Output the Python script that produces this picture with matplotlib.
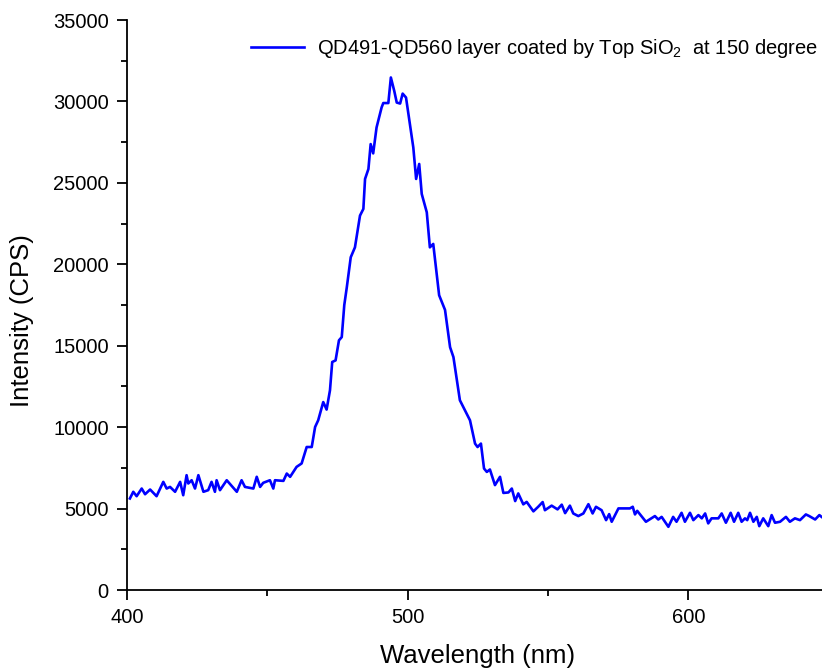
import matplotlib
matplotlib.use("Agg")
import matplotlib.pyplot as plt
from matplotlib.ticker import MultipleLocator

plt.rcParams['font.family'] = ['Liberation Sans', 'DejaVu Sans']
plt.rcParams['mathtext.fontset'] = 'custom'
plt.rcParams['mathtext.rm'] = 'Liberation Sans'
plt.rcParams['mathtext.it'] = 'Liberation Sans'

wavelength = [
    401.0, 402.2, 403.4, 405.2, 406.4, 408.2, 410.5, 412.9, 414.1, 415.3,
    417.1, 418.9, 420.0, 421.2, 421.8, 423.0, 424.2, 425.4, 427.2, 428.9,
    430.1, 431.3, 431.9, 433.1, 435.5, 439.1, 440.8, 442.0, 445.0, 446.2,
    447.4, 448.5, 450.9, 452.1, 452.7, 455.7, 456.9, 458.1, 460.4, 462.2,
    464.0, 465.8, 467.0, 468.1, 469.9, 471.1, 472.3, 473.1, 474.3, 475.5,
    476.5, 477.4, 478.3, 479.7, 481.2, 483.0, 484.2, 484.8, 486.0, 486.8,
    487.7, 488.9, 490.7, 491.3, 493.1, 494.0, 495.2, 496.1, 497.3, 498.2,
    499.4, 500.8, 502.0, 503.0, 504.1, 505.0, 506.8, 507.9, 509.1, 511.2,
    513.3, 515.1, 516.3, 518.6, 520.4, 522.2, 524.0, 524.9, 526.1, 527.2,
    528.2, 529.3, 531.1, 532.9, 534.1, 535.9, 537.1, 538.3, 539.4, 541.2,
    542.4, 544.8, 546.5, 548.1, 548.9, 551.3, 553.4, 554.9, 556.1, 557.8,
    559.0, 560.8, 562.6, 564.4, 565.9, 567.1, 569.1, 570.7, 571.8, 572.7,
    575.1, 579.2, 580.2, 581.0, 581.8, 584.9, 588.1, 589.3, 590.5, 592.9,
    594.6, 595.8, 597.6, 598.8, 600.6, 601.8, 603.6, 604.8, 606.0, 607.1,
    608.3, 610.7, 611.9, 613.4, 615.1, 616.3, 617.8, 619.0, 620.2, 621.0,
    622.0, 623.2, 624.4, 625.3, 626.7, 628.5, 629.7, 630.9, 632.7, 634.8,
    636.2, 638.0, 639.8, 641.9, 643.1, 645.2, 646.7, 647.5,
]

intensity = [
    5620, 6030, 5760, 6230, 5880, 6170, 5760, 6640, 6230, 6330,
    6030, 6640, 5820, 7050, 6540, 6740, 6230, 7050, 6030, 6130,
    6640, 6030, 6740, 6130, 6740, 6030, 6740, 6330, 6230, 6950,
    6330, 6580, 6740, 6230, 6740, 6700, 7150, 6950, 7560, 7770,
    8780, 8780, 10010, 10420, 11540, 11080, 12260, 14000, 14100, 15330,
    15530, 17500, 18590, 20430, 21040, 22990, 23400, 25240, 25850, 27380,
    26810, 28400, 29630, 29900, 29900, 31470, 30650, 29930, 29870, 30480,
    30240, 28610, 27170, 25240, 26160, 24320, 23190, 21040, 21250, 18100,
    17200, 14910, 14300, 11650, 11030, 10420, 8990, 8780, 8990, 7460,
    7250, 7400, 6440, 6950, 5960, 5990, 6230, 5460, 5930, 5260,
    5410, 4830, 5110, 5400, 4900, 5180, 4950, 5240, 4720, 5180,
    4700, 4540, 4700, 5270, 4700, 5110, 4900, 4290, 4660, 4190,
    5010, 5010, 5110, 4640, 4860, 4190, 4540, 4330, 4490, 3880,
    4490, 4190, 4740, 4190, 4740, 4290, 4600, 4400, 4700, 4090,
    4400, 4400, 4700, 4130, 4740, 4190, 4740, 4190, 4400, 4290,
    4740, 4190, 4490, 3920, 4400, 3920, 4600, 4130, 4190, 4490,
    4190, 4400, 4290, 4640, 4540, 4330, 4600, 4490,
]

series_label = "QD491-QD560 layer coated by Top SiO$_2$  at 150 degree"
x_label = "Wavelength (nm)"
y_label = "Intensity (CPS)"

fig = plt.figure(figsize=(8.22, 6.70), dpi=100)
ax = fig.add_axes([127.1 / 822, 80 / 670, 701.5 / 822, 570 / 670])

ax.plot(wavelength, intensity, color='#0000FF', lw=1.9, label=series_label)

ax.set_xlim(400, 650)
ax.set_ylim(0, 35000)
ax.xaxis.set_major_locator(MultipleLocator(100))
ax.xaxis.set_minor_locator(MultipleLocator(50))
ax.yaxis.set_major_locator(MultipleLocator(5000))
ax.yaxis.set_minor_locator(MultipleLocator(2500))

for s in ['top', 'right']:
    ax.spines[s].set_visible(False)
for s in ['left', 'bottom']:
    ax.spines[s].set_linewidth(1.3)

ax.tick_params(which='major', direction='out', length=7.2, width=1.3,
               labelsize=14.5, pad=6)
ax.tick_params(which='minor', direction='out', length=4, width=1.3)

ax.set_xlabel(x_label, fontsize=18.5)
ax.set_ylabel(y_label, fontsize=18.5)
ax.xaxis.set_label_coords(0.5, -0.095)
ax.yaxis.set_label_coords(-0.133, 0.472)

ax.legend(loc='upper right', bbox_to_anchor=(818 / 822, 1 - 37 / 670),
          bbox_transform=fig.transFigure, frameon=False, fontsize=14.5,
          handlelength=2.63, handletextpad=0.65, borderpad=0, borderaxespad=0)

fig.savefig('out.png', dpi=100)
